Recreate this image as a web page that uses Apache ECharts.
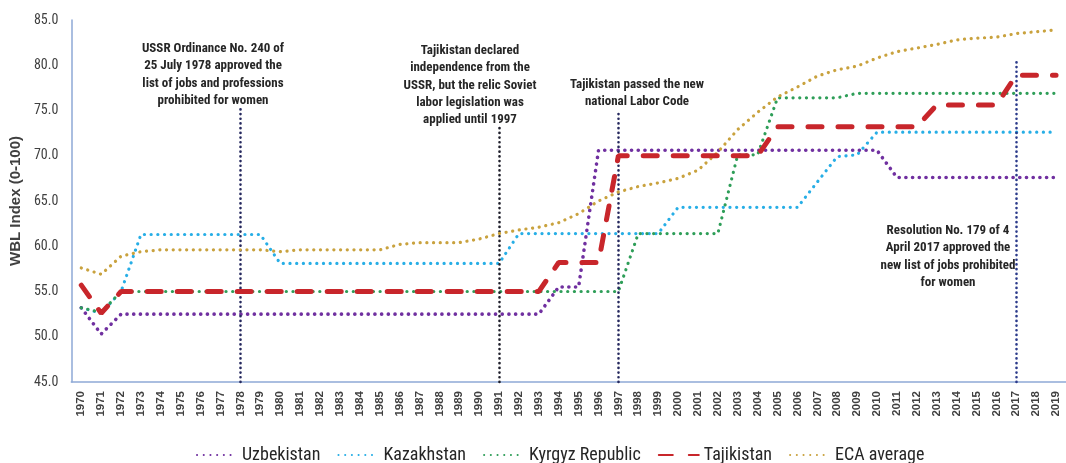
<!DOCTYPE html>
<html>
<head>
<meta charset="utf-8">
<script src="https://cdn.jsdelivr.net/npm/echarts@6/dist/echarts.min.js"></script>
<style>
html,body{margin:0;padding:0;background:#fff;}
#chart{width:1066px;height:463px;}
</style>
</head>
<body>
<div id="chart"></div>
<script>
const years = ['1970','1971','1972','1973','1974','1975','1976','1977','1978','1979',
'1980','1981','1982','1983','1984','1985','1986','1987','1988','1989',
'1990','1991','1992','1993','1994','1995','1996','1997','1998','1999',
'2000','2001','2002','2003','2004','2005','2006','2007','2008','2009',
'2010','2011','2012','2013','2014','2015','2016','2017','2018','2019'];

const uzbekistan = [53.2,50.3,52.5,52.5,52.5,52.5,52.5,52.5,52.5,52.5,
52.5,52.5,52.5,52.5,52.5,52.5,52.5,52.5,52.5,52.5,
52.5,52.5,52.5,52.5,55.5,55.5,70.6,70.6,70.6,70.6,
70.6,70.6,70.6,70.6,70.6,70.6,70.6,70.6,70.6,70.6,
70.6,67.6,67.6,67.6,67.6,67.6,67.6,67.6,67.6,67.6];

const kazakhstan = [53.2,52.6,55.0,61.3,61.3,61.3,61.3,61.3,61.3,61.3,
58.1,58.1,58.1,58.1,58.1,58.1,58.1,58.1,58.1,58.1,
58.1,58.1,61.4,61.4,61.4,61.4,61.4,61.4,61.4,61.4,
64.3,64.3,64.3,64.3,64.3,64.3,64.3,67.1,69.9,70.1,
72.6,72.6,72.6,72.6,72.6,72.6,72.6,72.6,72.6,72.6];

const kyrgyz = [53.2,52.7,55.0,55.0,55.0,55.0,55.0,55.0,55.0,55.0,
55.0,55.0,55.0,55.0,55.0,55.0,55.0,55.0,55.0,55.0,
55.0,55.0,55.0,55.0,55.0,55.0,55.0,55.0,61.4,61.4,
61.4,61.4,61.4,70.1,70.1,76.4,76.4,76.4,76.4,76.9,
76.9,76.9,76.9,76.9,76.9,76.9,76.9,76.9,76.9,76.9];

const tajikistan = [55.7,52.6,55.0,55.0,55.0,55.0,55.0,55.0,55.0,55.0,
55.0,55.0,55.0,55.0,55.0,55.0,55.0,55.0,55.0,55.0,
55.0,55.0,55.0,55.0,58.2,58.2,58.2,70.0,70.0,70.0,
70.0,70.0,70.0,70.0,70.0,73.2,73.2,73.2,73.2,73.2,
73.2,73.2,73.2,75.6,75.6,75.6,75.6,78.9,78.9,78.9];

const ecaAverage = [57.6,56.9,58.9,59.4,59.6,59.6,59.6,59.6,59.6,59.6,
59.4,59.6,59.6,59.6,59.6,59.6,60.2,60.4,60.4,60.4,
60.8,61.4,61.8,62.1,62.6,63.6,65.0,66.0,66.6,67.0,
67.5,68.4,70.4,72.9,74.8,76.5,77.6,78.8,79.5,79.9,
80.8,81.5,81.9,82.3,82.8,83.0,83.1,83.5,83.7,83.9];

const seriesNames = ['Uzbekistan','Kazakhstan','Kyrgyz Republic','Tajikistan','ECA average'];
const yTicks = {min:45, max:85, interval:5};

const eventYears = ['1978','1991','1997','2017'];
const eventTops = [75.6, 73.1, 74.7, 80.4];

const NARROW = '"Liberation Sans Narrow","Arial Narrow","Roboto Condensed",sans-serif';
const chart = echarts.init(document.getElementById('chart'), null, {renderer:'canvas'});

function dotted(color, w){
  return {color: color, width: w || 3.4, type: [0.1, 6.6], cap: 'round'};
}

const eventColors = ['#25285e','#1e1e2a','#25285e','#2b3a8a'];
const markData = eventYears.map((y,i)=>[
  {coord:[y, yTicks.min], lineStyle:{color:eventColors[i], width:2.6, type:[0.1,4.6], cap:'round'}},
  {coord:[y, eventTops[i]]}
]);

const annotations = [
  {x:213, y:40, lines:['USSR Ordinance No. 240 of','25 July 1978 approved the','list of jobs and professions','prohibited for women']},
  {x:470, y:42, lines:['Tajikistan declared','independence from the','USSR, but the relic Soviet','labor legislation was','applied until 1997']},
  {x:637, y:76, lines:['Tajikistan passed the new','national Labor Code']},
  {x:948, y:222, lines:['Resolution No. 179 of 4','April 2017 approved the','new list of jobs prohibited','for women']}
];

const option = {
  animation:false,
  backgroundColor:'#ffffff',
  grid:{left:69, top:20, width:1003.5, height:362, containLabel:false},
  legend:{
    top:441, left:191,
    itemWidth:40, itemHeight:10, itemGap:17,
    data: seriesNames,
    itemStyle:{opacity:0},
    textStyle:{fontFamily:NARROW, fontSize:18, color:'#262626'}
  },
  xAxis:{
    type:'category', data: years, boundaryGap:true,
    axisLine:{lineStyle:{color:'#8ea9d6', width:1.5}},
    axisTick:{show:false},
    axisLabel:{rotate:90, fontSize:11.5, fontWeight:'bold', color:'#404040', margin:9, interval:0, fontFamily:'"Liberation Sans","Arial",sans-serif'},
    splitLine:{show:false}
  },
  yAxis:{
    type:'value', min:yTicks.min, max:yTicks.max, interval:yTicks.interval,
    name:'WBL Index (0-100)', nameLocation:'middle', nameGap:42,
    nameTextStyle:{fontSize:15, fontWeight:'bold', color:'#404040', fontFamily:'"Liberation Sans",sans-serif'},
    axisLine:{show:true, lineStyle:{color:'#8ea9d6', width:1.5}},
    axisTick:{show:false},
    splitLine:{show:false},
    axisLabel:{formatter:v=>v.toFixed(1), fontSize:14, color:'#404040', margin:13, fontFamily:NARROW}
  },
  series:[
    {name:seriesNames[0], type:'line', data:uzbekistan, symbol:'none', z:3,
     lineStyle:dotted('#7030a0',3.6), itemStyle:{color:'#7030a0'},
     markLine:{silent:true, symbol:['none','none'], label:{show:false}, data:markData}},
    {name:seriesNames[1], type:'line', data:kazakhstan, symbol:'none', z:2,
     lineStyle:dotted('#27aee6',3.2), itemStyle:{color:'#27aee6'}},
    {name:seriesNames[2], type:'line', data:kyrgyz, symbol:'none', z:4,
     lineStyle:dotted('#2e9e58',3.2), itemStyle:{color:'#2e9e58'}},
    {name:seriesNames[3], type:'line', data:tajikistan, symbol:'none', z:6,
     lineStyle:{color:'#c8262b', width:5, type:[14,16], cap:'round'}, itemStyle:{color:'#c8262b'}},
    {name:seriesNames[4], type:'line', data:ecaAverage, symbol:'none', z:5,
     lineStyle:dotted('#c9a23e',3.2), itemStyle:{color:'#c9a23e'}}
  ],
  graphic: annotations.map(a=>({
    type:'text', x:a.x, y:a.y, z:10, silent:true,
    style:{text:a.lines.join('\n'), align:'center', verticalAlign:'top',
      font:'bold 13px ' + NARROW, fill:'#262626', lineHeight:17.3}
  }))
};
chart.setOption(option);
</script>
</body>
</html>
